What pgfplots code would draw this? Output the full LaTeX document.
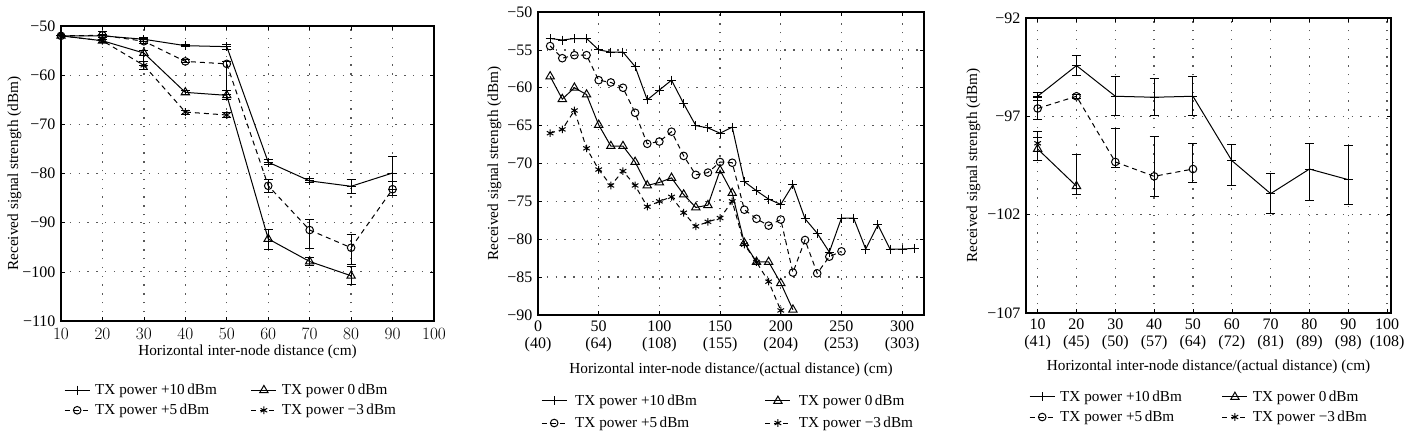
\documentclass[border=0pt]{standalone}
\usepackage{pgfplots}
\pgfplotsset{compat=1.18}
\usepackage{fontspec}
\setmainfont{Liberation Serif}
\newcommand\fs{\fontsize{16}{17.5}\selectfont}
\newcommand\fl{\fontsize{15.3}{17}\selectfont}
\newcommand\fg{\fontsize{15.2}{17}\selectfont}
\pgfplotsset{
  every axis/.append style={
    scale only axis,
    font=\fs,
    tick label style={font=\fs},
    label style={font=\fl},
    axis line style={line width=1.1pt},
    grid=major,
    major grid style={dash pattern=on 1.3pt off 7.5pt, line width=1.3pt, black!65},
    tick style={black, line width=0.6pt},
    major tick length=4pt,
    tick align=inside,
    yticklabel style={xshift=-2pt},
    ylabel={Received signal strength (dBm)},
    legend cell align=left,
    legend image code/.code={\draw[mark repeat=2,mark phase=2] plot coordinates {(0pt,0pt) (12.5pt,0pt) (25pt,0pt)};},
  },
  pA/.style={black, solid, line width=1pt, mark=+, mark size=4.5pt, mark options={solid}},
  pB/.style={black, dash pattern=on 5pt off 4pt, line width=1pt, mark=o, mark size=3.8pt, mark options={solid}},
  pC/.style={black, solid, line width=1pt, mark=triangle, mark size=4.8pt, mark options={solid}},
  pD/.style={black, dash pattern=on 5pt off 4pt, line width=1pt, mark=asterisk, mark size=3.8pt, mark options={solid}},
  eb/.style={error bars/.cd, y dir=both, y explicit, error bar style={line width=1pt, solid}, error mark options={rotate=90, mark size=4.5pt, line width=1pt, solid}},
}
\begin{document}
\begin{tikzpicture}
\useasboundingbox (0pt,0pt) rectangle (1411pt,436pt);
% ---------------- Left panel ----------------
\begin{axis}[
  at={(61pt,115pt)}, anchor=south west,
  width=373pt, height=295pt,
  xmin=10, xmax=100, ymin=-110, ymax=-50,
  xtick={10,20,...,100},
  xticklabel style={yshift=-4pt},
  ytick={-110,-100,...,-50},
  yticklabels={−110,−100,−90,−80,−70,−60,−50},
  xlabel={Horizontal inter-node distance (cm)},
  xlabel style={at={(axis description cs:0.5,-0.07)}, anchor=north},
  ylabel style={at={(axis description cs:-0.0965,0.5)}, anchor=south},
  legend style={at={(axis description cs:0,-0.2)}, anchor=north west, draw=none, fill=none, legend columns=2, row sep=4pt, /tikz/every even column/.append style={column sep=32pt}},
]
\addplot[pA, eb] table[x=x, y=y, y error plus=ep, y error minus=em] {
x y ep em
10 -52 0.3 0.3
20 -52 0.3 0.3
30 -52.7 0.4 0.4
40 -54 0.2 0.2
50 -54.2 0.5 0.5
60 -77.7 0.5 0.5
70 -81.5 0.4 0.4
80 -82.6 1.4 1.4
90 -79.9 3.3 3.3
};
\addlegendentry{\fg\hspace{3pt}TX power +10\,dBm}
\addplot[pC, eb] table[x=x, y=y, y error plus=ep, y error minus=em] {
x y ep em
10 -52 0.3 0.3
20 -53 0.3 0.3
30 -55.5 0.6 2.5
40 -63.5 0.4 0.4
50 -64.1 0.9 0.9
60 -93.3 1.9 2.2
70 -97.9 0.9 0.9
80 -100.8 1.8 1.8
};
\addlegendentry{\fg\hspace{3pt}TX power 0\,dBm}
\addplot[pB, eb] table[x=x, y=y, y error plus=ep, y error minus=em] {
x y ep em
10 -52 0.3 0.3
20 -51.9 0.8 0.8
30 -53.1 0.5 0.5
40 -57.2 0.3 0.3
50 -57.7 0.5 6.3
60 -82.5 1.3 1.3
70 -91.5 2.2 3.8
80 -95.1 2.7 3.4
90 -83.2 1.6 1.2
};
\addlegendentry{\fg\hspace{3pt}TX power +5\,dBm}
\addplot[pD, eb] table[x=x, y=y, y error plus=ep, y error minus=em] {
x y ep em
10 -52 0.3 0.3
20 -53 0.3 0.3
30 -58 0.8 0.8
40 -67.5 0.4 0.4
50 -68.1 0.6 0.6
};
\addlegendentry{\fg\hspace{3pt}TX power −3\,dBm}
\end{axis}
% ---------------- Middle panel ----------------
\begin{axis}[
  at={(538pt,121pt)}, anchor=south west,
  width=386pt, height=303pt,
  xmin=0, xmax=318, ymin=-90, ymax=-50,
  xtick={0,50,...,300},
  xticklabels={{0\\(40)},{50\\(64)},{100\\(108)},{150\\(155)},{200\\(204)},{250\\(253)},{300\\(303)}},
  xticklabel style={align=center, yshift=-2pt},
  ytick={-90,-85,...,-50},
  yticklabels={−90,−85,−80,−75,−70,−65,−60,−55,−50},
  xlabel={Horizontal inter-node distance/(actual distance) (cm)},
  xlabel style={at={(axis description cs:0.5,-0.145)}, anchor=north},
  ylabel style={at={(axis description cs:-0.0855,0.5)}, anchor=south},
  legend style={at={(axis description cs:0,-0.25)}, anchor=north west, draw=none, fill=none, legend columns=2, row sep=6pt, /tikz/every even column/.append style={column sep=66pt}},
]
\addplot[pA] table {
10 -53.5
20 -53.7
30 -53.5
40 -53.5
50 -55
60 -55.3
70 -55.3
80 -57.2
90 -61.6
100 -60.3
110 -59
120 -62.1
130 -65
140 -65.3
150 -66
160 -65.2
170 -72.4
180 -73.6
190 -74.7
200 -75.4
210 -72.8
220 -77.3
230 -79.2
240 -81.7
250 -77.2
260 -77.2
270 -81.3
280 -78.1
290 -81.3
300 -81.3
310 -81.2
};
\addlegendentry{\fg\hspace{6pt}TX power +10\,dBm}
\addplot[pC] table {
10 -58.5
20 -61.5
30 -60
40 -60.9
50 -64.9
60 -67.7
70 -67.7
80 -69.8
90 -72.9
100 -72.5
110 -71.9
120 -74.1
130 -75.8
140 -75.5
150 -70.9
160 -73.9
170 -80.5
180 -83
190 -83
200 -85.8
210 -89.3
};
\addlegendentry{\fg\hspace{6pt}TX power 0\,dBm}
\addplot[pB] table {
10 -54.5
20 -56.1
30 -55.7
40 -55.7
50 -59
60 -59.3
70 -60
80 -63.3
90 -67.4
100 -67.1
110 -65.8
120 -69
130 -71.5
140 -71.2
150 -69.8
160 -69.9
170 -76.1
180 -77.3
190 -78.2
200 -77.4
210 -84.4
220 -80.1
230 -84.5
240 -82.3
250 -81.6
};
\addlegendentry{\fg\hspace{6pt}TX power +5\,dBm}
\addplot[pD] table {
10 -66
20 -65.5
30 -63
40 -68
50 -70.8
60 -72.9
70 -71
80 -72.9
90 -75.7
100 -75
110 -74.4
120 -76.5
130 -78.3
140 -77.7
150 -77.2
160 -75
170 -80.7
180 -83
190 -85.6
200 -89.4
};
\addlegendentry{\fg\hspace{6pt}TX power −3\,dBm}
\end{axis}
% ---------------- Right panel ----------------
\begin{axis}[
  at={(1026pt,123pt)}, anchor=south west,
  width=365pt, height=295pt,
  xmin=7, xmax=101, ymin=-107, ymax=-92,
  xtick={10,20,...,100},
  xticklabels={{10\\(41)},{20\\(45)},{30\\(50)},{40\\(57)},{50\\(64)},{60\\(72)},{70\\(81)},{80\\(89)},{90\\(98)},{100\\(108)}},
  xticklabel style={align=center, yshift=-2pt},
  ytick={-107,-102,-97,-92},
  yticklabels={−107,−102,−97,−92},
  xlabel={Horizontal inter-node distance/(actual distance) (cm)},
  xlabel style={at={(axis description cs:0.5,-0.146)}, anchor=north},
  ylabel style={at={(axis description cs:-0.115,0.5)}, anchor=south},
  legend style={at={(axis description cs:0,-0.25)}, anchor=north west, draw=none, fill=none, legend columns=2, row sep=4pt, /tikz/every even column/.append style={column sep=38pt}},
]
\addplot[pA, eb] table[x=x, y=y, y error plus=ep, y error minus=em] {
x y ep em
10 -95.98 0.2 0.2
20 -94.42 0.5 0.5
30 -95.98 1.0 1.0
40 -96.03 0.95 0.95
50 -95.98 1.0 1.0
60 -99.25 0.8 1.25
70 -100.93 1.0 1.0
80 -99.68 1.3 1.6
90 -100.22 1.75 1.27
};
\addlegendentry{\fg\hspace{3pt}TX power +10\,dBm}
\addplot[pC, eb] table[x=x, y=y, y error plus=ep, y error minus=em] {
x y ep em
10 -98.66 0.6 0.6
20 -100.55 1.6 0.45
};
\addlegendentry{\fg\hspace{3pt}TX power 0\,dBm}
\addplot[pB, eb] table[x=x, y=y, y error plus=ep, y error minus=em] {
x y ep em
10 -96.6 0.55 0.55
20 -95.98 0.1 0.1
30 -99.32 1.68 0.3
40 -100.05 2.0 1.05
50 -99.68 1.32 0.68
};
\addlegendentry{\fg\hspace{3pt}TX power +5\,dBm}
\addplot[pD, eb] table[x=x, y=y, y error plus=ep, y error minus=em] {
x y ep em
10 -98.37 0.6 0.9
};
\addlegendentry{\fg\hspace{3pt}TX power −3\,dBm}
\end{axis}
\end{tikzpicture}
\end{document}
